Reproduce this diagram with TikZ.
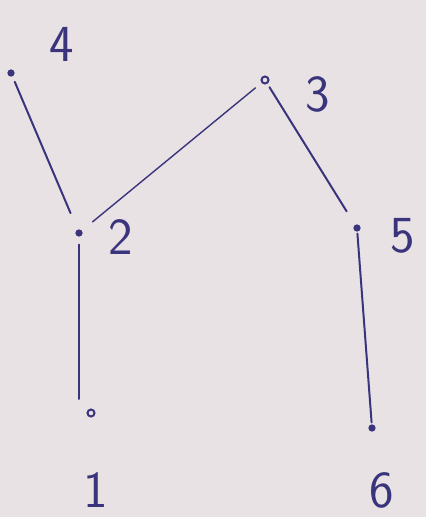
\documentclass[tikz,border=0pt]{standalone}
\definecolor{paper}{RGB}{232,226,228}
\definecolor{ink}{RGB}{58,52,125}
\begin{document}
\begin{tikzpicture}[x=1pt,y=-1pt,
  vert/.style={circle,draw=ink,fill=ink,line width=1.2pt,inner sep=0pt,minimum size=6pt},
  overt/.style={circle,draw=ink,fill=paper,line width=2pt,inner sep=0pt,minimum size=7pt},
  lbl/.style={text=ink,font=\sffamily\fontsize{52}{52}\selectfont,inner sep=0pt},
  edge/.style={draw=ink,line width=2pt,line cap=round,shorten <=6pt,shorten >=8pt}]
\fill[paper] (0,0) rectangle (426,517);
\useasboundingbox (0,0) rectangle (426,517);
\node[vert] (v4) at (11,73) {};
\node[vert] (v2) at (79,233) {};
\node[overt] (v3) at (265,80) {};
\node[vert] (v5) at (357,228) {};
\node[overt] (v1) at (91,413) {};
\node[vert] (v6) at (372,428) {};
\node[lbl] (l4) at (62,44) {4};
\node[lbl] (l2) at (121,237) {2};
\node[lbl] (l3) at (318,94) {3};
\node[lbl] (l5) at (403,236) {5};
\node[lbl] (l1) at (96,490) {1};
\node[lbl] (l6) at (382,490) {6};
\draw[edge,shorten >=18pt] (v4) -- (v2);
\draw[edge,shorten <=14pt,line width=1.4pt] (v2) -- (v3);
\draw[edge,shorten <=4pt,shorten >=16pt] (v3) -- (v5);
\draw[edge,shorten <=8pt,shorten >=14pt] (v2) -- (v2 |- v1);
\draw[edge,shorten <=2pt,shorten >=2pt] (v5) -- (v6);
\end{tikzpicture}
\end{document}
